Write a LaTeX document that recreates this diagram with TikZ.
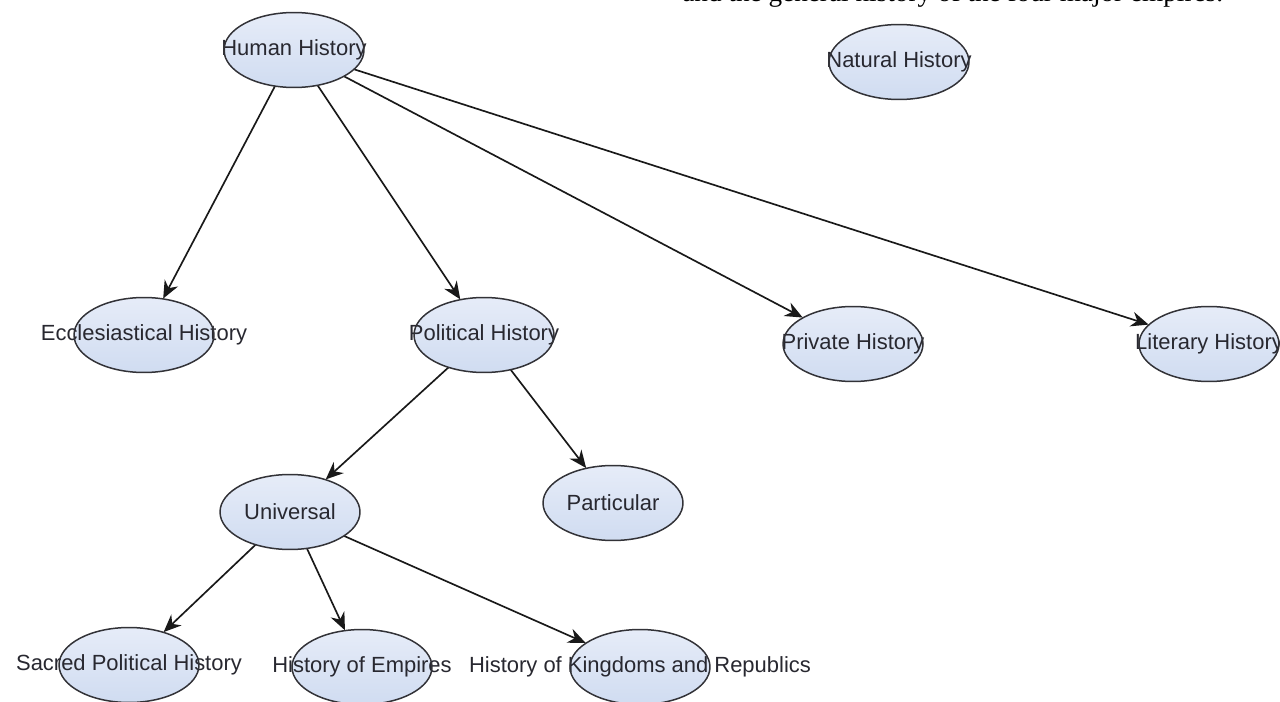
\documentclass[tikz,border=0pt]{standalone}
\usepackage{fontspec}
\setmainfont{Liberation Serif}
\newfontfamily\nodefont{Liberation Sans}
\usetikzlibrary{shapes.geometric,arrows.meta}
\definecolor{nodefill}{RGB}{208,220,241}
\definecolor{nodetop}{RGB}{230,236,248}
\definecolor{rimcolor}{RGB}{50,50,55}
\definecolor{arrowcolor}{RGB}{25,25,25}
\definecolor{labelcolor}{RGB}{40,40,48}
\tikzset{
  histnode/.style={ellipse,minimum width=2.8cm,minimum height=1.5cm,inner sep=0pt,
    top color=nodetop,bottom color=nodefill,text=labelcolor,
    font=\nodefont\fontsize{12.5}{14}\selectfont},
  histrim/.style={draw=rimcolor,line width=0.85pt},
  histarrow/.style={draw=arrowcolor,line width=0.95pt,-{Stealth[length=10pt,width=8.5pt]}}
}
\begin{document}
\begin{tikzpicture}[x=0.02cm,y=-0.02cm]
\useasboundingbox (0,0) rectangle (1280,702);

\node[anchor=base west,inner sep=0pt,font=\fontsize{15.5}{18}\selectfont] (t1) at (682,1.5) {and the general history of the four major empires.};

\node[histnode] (v1) at (294,50) {\makebox[0pt]{Human History}};
\node[histnode] (v2) at (899,62) {\makebox[0pt]{Natural History}};
\node[histnode] (v3) at (144,335) {\makebox[0pt]{Ecclesiastical History}};
\node[histnode] (v4) at (484,335) {\makebox[0pt]{Political History}};
\node[histnode] (v5) at (853,344) {\makebox[0pt]{Private History}};
\node[histnode] (v6) at (1209,344) {\makebox[0pt]{Literary History}};
\node[histnode] (v7) at (290,512) {\makebox[0pt]{Universal}};
\node[histnode] (v8) at (613,503) {\makebox[0pt]{Particular}};
\node[histnode] (v9) at (129,665) {\makebox[0pt]{Sacred Political History}};
\node[histnode] (v10) at (362,667) {\makebox[0pt]{History of Empires}};
\node[histnode] (v11) at (640,667) {\makebox[0pt]{History of Kingdoms and Republics}};

\draw[histarrow] (v1) -- (v3);
\draw[histarrow] (v1) -- (v4);
\draw[histarrow] (v1) -- (v5);
\draw[histarrow] (v1) -- (v6);
\draw[histarrow] (v4) -- (v7);
\draw[histarrow] (v4) -- (v8);
\draw[histarrow] (v7) -- (v9);
\draw[histarrow] (v7) -- (v10);
\draw[histarrow] (v7) -- (v11);

\foreach \v in {v1,v2,v3,v4,v5,v6,v7,v8,v9,v10,v11}
  \draw[histrim] (\v.center) ellipse [x radius=1.4cm, y radius=0.75cm];
\end{tikzpicture}
\end{document}
